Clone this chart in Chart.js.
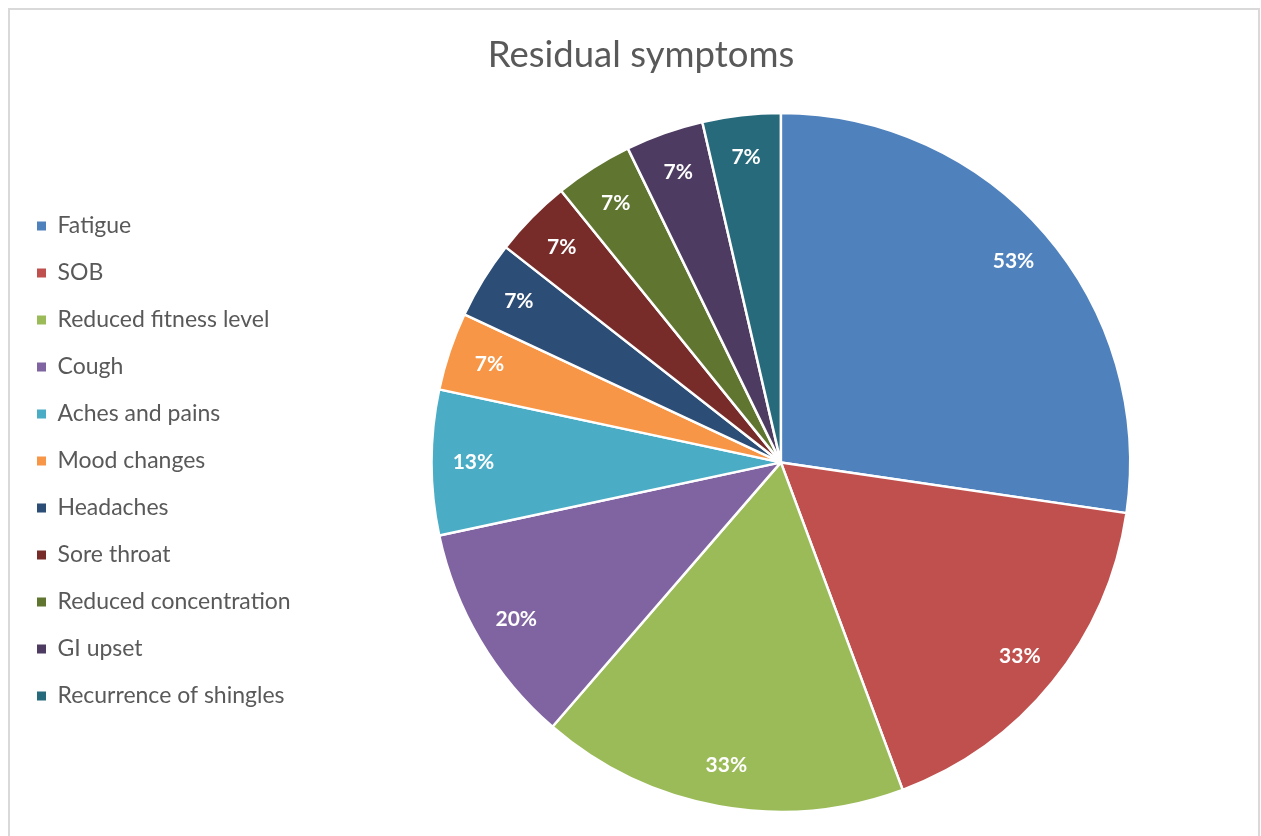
<!DOCTYPE html>
<html>
<head>
<meta charset="utf-8">
<script src="https://cdn.jsdelivr.net/npm/chart.js@4/dist/chart.umd.min.js"></script>
<style>
  html, body { margin: 0; padding: 0; background: #fff; }
  #wrap { position: relative; width: 1261px; height: 836px; }
  #frame {
    position: absolute; left: 8px; top: 8px; width: 1252px; height: 840px;
    border: 2px solid #d9d9d9; box-sizing: border-box; pointer-events: none;
  }
</style>
</head>
<body>
<div id="wrap">
  <canvas id="chart" width="1261" height="836"></canvas>
  <div id="frame"></div>
</div>
<script>
/* global Chart */

var symptoms = ['Fatigue', 'SOB', 'Reduced fitness level', 'Cough', 'Aches and pains',
  'Mood changes', 'Headaches', 'Sore throat', 'Reduced concentration', 'GI upset',
  'Recurrence of shingles']
// percent of patients reporting each symptom
var percents = [53, 33, 33, 20, 13, 7, 7, 7, 7, 7, 7]
var colours = ['#4f81bd', '#c0504d', '#9bbb59', '#8064a2', '#4bacc6', '#f79646',
  '#2c4d75', '#772c2a', '#5f7530', '#4d3b62', '#276a7c']

var fontFam = 'Lato, "Open Sans", sans-serif'

// draws the % text inside each slice, near the outer edge like excel does
var sliceLabels = {
  id: 'sliceLabels',
  afterDatasetsDraw (chart) {
    var ctx = chart.ctx
    var meta = chart.getDatasetMeta(0)
    ctx.save()
    ctx.fillStyle = '#ffffff'
    ctx.font = 'bold 21px ' + fontFam
    ctx.textAlign = 'center'
    ctx.textBaseline = 'middle'
    meta.data.forEach((arc, i) => {
      var p = arc.getProps(['x', 'y', 'startAngle', 'endAngle', 'outerRadius'])
      var mid = (p.startAngle + p.endAngle) / 2
      var r = p.outerRadius * 0.88
      ctx.fillText(percents[i] + '%', p.x + Math.cos(mid) * r, p.y + Math.sin(mid) * r)
    })
    ctx.restore()
  }
}

new Chart(document.getElementById('chart').getContext('2d'), {
  type: 'pie',
  data: {
    labels: symptoms,
    datasets: [{
      data: percents,
      backgroundColor: colours,
      borderColor: '#ffffff',
      borderWidth: 2.5
    }]
  },
  options: {
    responsive: false,
    animation: false,
    layout: { padding: { left: 13, right: -8, top: 0, bottom: 23 } },
    plugins: {
      title: {
        display: true,
        text: 'Residual symptoms',
        color: '#595959',
        font: { family: fontFam, size: 36.5, weight: 'normal' },
        padding: { top: 33, bottom: 35 }
      },
      legend: {
        position: 'left',
        align: 'start',
        // blank legend title only pushes the list down to where excel had it
        title: { display: true, text: ' ', font: { size: 12 }, padding: { top: 176, bottom: 0 } },
        labels: {
          color: '#595959',
          font: { family: fontFam, size: 23 },
          boxWidth: 9,
          boxHeight: 9,
          padding: 24,
          generateLabels (chart) {
            var items = Chart.overrides.pie.plugins.legend.labels.generateLabels(chart)
            items.forEach(it => { it.strokeStyle = it.fillStyle; it.lineWidth = 0 })
            return items
          }
        }
      },
      tooltip: { enabled: false }
    }
  },
  plugins: [sliceLabels]
})
</script>
</body>
</html>
